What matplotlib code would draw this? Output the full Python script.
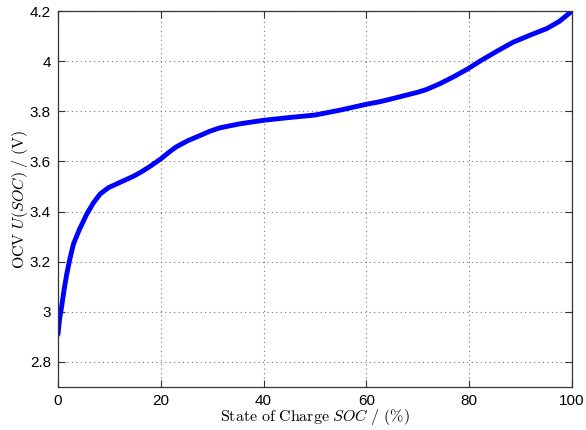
import matplotlib
matplotlib.use('Agg')
import matplotlib.pyplot as plt
import numpy as np

# SOC (%) and open circuit voltage (V)
soc = [0, 0.3, 0.7, 1.2, 1.7, 2.3, 3.0, 4.2, 5.6, 6.9, 8.2, 9.8, 11.4, 13.0,
       14.6, 16.2, 17.9, 20.0, 21.5, 23.0, 25.3, 27.6, 29.5, 31.5, 35.4, 40.0,
       45.0, 50.0, 55.0, 60.0, 62.6, 65.0, 70.0, 71.7, 74.3, 77.0, 79.8, 82.1,
       85.0, 88.5, 92.0, 95.1, 97.5, 99.6, 100]
ocv = [2.91, 2.97, 3.02, 3.09, 3.15, 3.21, 3.27, 3.33, 3.39, 3.435, 3.47, 3.495,
       3.51, 3.525, 3.54, 3.558, 3.58, 3.61, 3.635, 3.658, 3.683, 3.703, 3.72,
       3.734, 3.75, 3.764, 3.775, 3.785, 3.805, 3.828, 3.838, 3.85, 3.876, 3.887,
       3.91, 3.938, 3.97, 4.0, 4.035, 4.075, 4.105, 4.13, 4.158, 4.193, 4.2]

xticks = [0, 20, 40, 60, 80, 100]
yticks = [2.8, 3.0, 3.2, 3.4, 3.6, 3.8, 4.0, 4.2]
ytick_labels = ['2.8', '3', '3.2', '3.4', '3.6', '3.8', '4', '4.2']

plt.rcParams['mathtext.fontset'] = 'cm'
plt.rcParams['font.family'] = ['Liberation Sans', 'DejaVu Sans']

fig = plt.figure(figsize=(5.86, 4.30), dpi=100)
ax = fig.add_axes([58 / 586, 43 / 430, 514 / 586, 376 / 430])

ax.plot(soc, ocv, color='#0000ff', linewidth=3.5, solid_capstyle='round')

ax.set_xlim(0, 100)
ax.set_ylim(2.7, 4.2)
ax.set_xticks(xticks)
ax.set_yticks(yticks)
ax.set_yticklabels(ytick_labels)
ax.tick_params(direction='in', top=True, right=True, length=5, width=0.8,
               labelsize=11, colors='#333333', labelcolor='black', pad=5)
ax.grid(True, linestyle=(0, (1, 3)), color='#777777', linewidth=0.8)

for s in ax.spines.values():
    s.set_color('#333333')
    s.set_linewidth(0.9)

ax.set_xlabel(r'$\mathrm{State\ of\ Charge}\ SOC\ /\ (\%)$', fontsize=11.5, labelpad=-1)
ax.set_ylabel(r'$\mathrm{OCV}\ U(SOC)\ /\ (\mathrm{V})$', fontsize=11.5, labelpad=0)

plt.savefig('out.png', dpi=100)
